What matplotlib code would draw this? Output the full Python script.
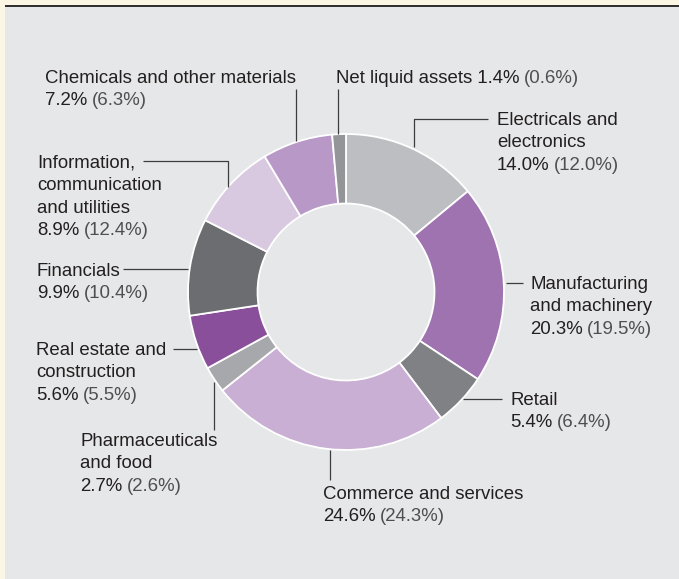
import matplotlib
matplotlib.use("Agg")
import matplotlib.pyplot as plt
from matplotlib.patches import Rectangle

plt.rcParams['font.family'] = ['Liberation Sans', 'DejaVu Sans']

# sector shares, clockwise from 12 o'clock
sectors = ["Electricals and\nelectronics", "Manufacturing\nand machinery", "Retail",
           "Commerce and services", "Pharmaceuticals\nand food",
           "Real estate and\nconstruction", "Financials",
           "Information,\ncommunication\nand utilities",
           "Chemicals and other materials", "Net liquid assets"]
share_now = [14.0, 20.3, 5.4, 24.6, 2.7, 5.6, 9.9, 8.9, 7.2, 1.4]
share_prev = [12.0, 19.5, 6.4, 24.3, 2.6, 5.5, 10.4, 12.4, 6.3, 0.6]
colors = ["#BDBEC1", "#9E73B0", "#808184", "#C9AFD3", "#A7A8AB",
          "#8A4F9A", "#6C6D70", "#D8C8E0", "#B898C6", "#939598"]

# label anchors (pixels, x left / first line centre) and leader lines
label_pos = [(497, 119), (530, 283), (510, 399), (323, 493), (80, 440),
             (36, 349), (37, 270), (37, 162), (45, 77), (336, 77)]
leaders = [[(488, 119), (414, 119), (414, 147)],
           [(523, 283), (506, 283)],
           [(502, 399), (463, 399)],
           [(330, 480), (330, 450)],
           [(214, 430), (214, 382)],
           [(197, 349), (173, 349)],
           [(123, 269), (188, 269)],
           [(143, 161), (228, 161), (228, 187)],
           [(296, 89), (296, 141)],
           [(338, 89), (338, 134)]]

W, H = 679, 579
fig = plt.figure(figsize=(W / 100, H / 100), dpi=100)
fig.patch.set_facecolor("#FBF6E3")

bg = fig.add_axes([0, 0, 1, 1], zorder=0)
bg.set_xlim(0, W)
bg.set_ylim(H, 0)
bg.axis("off")
bg.add_patch(Rectangle((5, 6), W - 5, H - 6, facecolor="#E6E7E8", edgecolor="none"))
bg.plot([5, W], [5.5, 5.5], color="#2b2b2b", lw=1.4, solid_capstyle="butt")

# donut
cx, cy, r = 346, 292, 158
pax = fig.add_axes([(cx - r) / W, 1 - (cy + r) / H, 2 * r / W, 2 * r / H], zorder=1)
pax.pie(share_now, colors=colors, startangle=90, counterclock=False, radius=1,
        wedgeprops=dict(width=0.44, edgecolor="white", linewidth=1.3))
pax.set_xlim(-1, 1)
pax.set_ylim(-1, 1)
pax.axis("off")

ax = fig.add_axes([0, 0, 1, 1], zorder=2)
ax.set_xlim(0, W)
ax.set_ylim(H, 0)
ax.axis("off")
ax.patch.set_alpha(0)

for pts in leaders:
    xs = [p[0] for p in pts]
    ys = [p[1] for p in pts]
    ax.plot(xs, ys, color="#3c3c3e", lw=0.9, solid_capstyle="butt")

fs = 13.4
dark = "#231F20"
light = "#4f4f52"
lh = 22.3
fig.canvas.draw()
rend = fig.canvas.get_renderer()

for name, now, prev, (x, y) in zip(sectors, share_now, share_prev, label_pos):
    lines = name.split("\n")
    if name == "Net liquid assets":
        last = name + " %.1f%%" % now
        lines = []
    else:
        last = "%.1f%%" % now
    for i, ln in enumerate(lines):
        ax.text(x, y + 6 + i * lh, ln, fontsize=fs, color=dark, ha="left", va="baseline")
    yb = y + 6 + len(lines) * lh
    t = ax.text(x, yb, last, fontsize=fs, color=dark, ha="left", va="baseline")
    bb = t.get_window_extent(renderer=rend)
    x2 = ax.transData.inverted().transform((bb.x1, bb.y0))[0]
    ax.text(x2 + 4.5, yb, "(%.1f%%)" % prev, fontsize=fs, color=light,
            ha="left", va="baseline")

fig.savefig("out.png", dpi=100, facecolor=fig.get_facecolor())
